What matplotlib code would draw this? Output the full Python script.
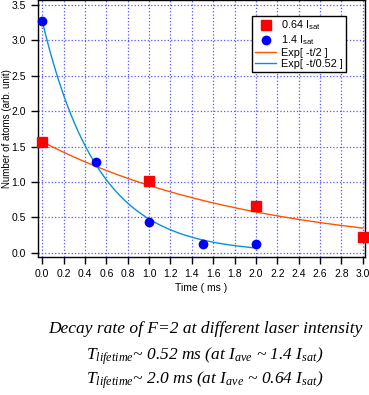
import numpy as np
import matplotlib.pyplot as plt

# data
t_low = [0.0, 1.0, 2.0, 3.0]
n_low = [1.57, 1.02, 0.66, 0.22]
t_high = [0.0, 0.5, 1.0, 1.5, 2.0]
n_high = [3.27, 1.29, 0.43, 0.13, 0.13]

# fit parameters (amplitude, lifetime in ms) as given in the legend
fit_low = (1.57, 2.0)
fit_high = (3.27, 0.52)

plt.rcParams['font.family'] = ['Liberation Sans', 'DejaVu Sans']
plt.rcParams['mathtext.fontset'] = 'custom'
plt.rcParams['mathtext.it'] = 'Liberation Serif:italic'
plt.rcParams['mathtext.rm'] = 'Liberation Serif:italic'
plt.rcParams['mathtext.sf'] = 'Liberation Sans'

fig = plt.figure(figsize=(3.69, 3.95), dpi=100)
ax = fig.add_axes([0.103, 0.349, 0.886, 0.651])

tl = np.linspace(0, 3, 200)
th = np.linspace(0, 2, 200)
ax.plot(tl, fit_low[0] * np.exp(-tl / fit_low[1]), color='#ff5500', lw=1, label='Exp[ -t/2 ]', zorder=2)
ax.plot(th, fit_high[0] * np.exp(-th / fit_high[1]), color='#0a90d8', lw=1, label='Exp[ -t/0.52 ]', zorder=2)
ax.plot(t_low, n_low, 's', color='#ff0000', ms=6.5, label=r'0.64 I$_{\mathsf{sat}}$', zorder=3, clip_on=False)
ax.plot(t_high, n_high, 'o', color='#0000ff', ms=6, label=r'1.4 I$_{\mathsf{sat}}$', zorder=3, clip_on=False)

ax.set_xlim(-0.04, 3.02)
ax.set_ylim(-0.06, 3.57)
ax.set_xticks(np.arange(0, 3.01, 0.2))
ax.set_xticklabels(['%.1f' % v for v in np.arange(0, 3.01, 0.2)])
ax.set_yticks(np.arange(0, 3.51, 0.5))
ax.grid(True, color='#5555ff', ls=':', lw=0.9)
ax.tick_params(labelsize=7.5, length=5, width=1, direction='out')
for s in ax.spines.values():
    s.set_linewidth(1)

ax.set_xlabel('Time ( ms )', fontsize=7.5, labelpad=3)
ax.set_ylabel('Number of atoms (arb. unit)', fontsize=7, va='center')
ax.yaxis.set_label_coords(-0.094, 0.5)

h, l = ax.get_legend_handles_labels()
order = [2, 3, 0, 1]
leg = ax.legend([h[i] for i in order], [l[i] for i in order], loc='upper right',
                bbox_to_anchor=(0.96, 0.96), fontsize=7.8, fancybox=False,
                edgecolor='black', framealpha=1, handlelength=1.9,
                borderpad=0.3, labelspacing=0.1, handletextpad=0.5)
leg.get_frame().set_linewidth(1)

tf = dict(family=['Liberation Serif', 'DejaVu Serif'], style='italic', fontsize=12.5, ha='center', va='center')
fig.text(0.556, 0.168, 'Decay rate of F=2 at different laser intensity', **tf)
fig.text(0.556, 0.097, r'T$_{lifetime}$~ 0.52 ms (at I$_{ave}$ ~ 1.4 I$_{sat}$)', **tf)
fig.text(0.556, 0.038, r'T$_{lifetime}$~ 2.0 ms (at I$_{ave}$ ~ 0.64 I$_{sat}$)', **tf)

fig.savefig('out.png', dpi=100)
